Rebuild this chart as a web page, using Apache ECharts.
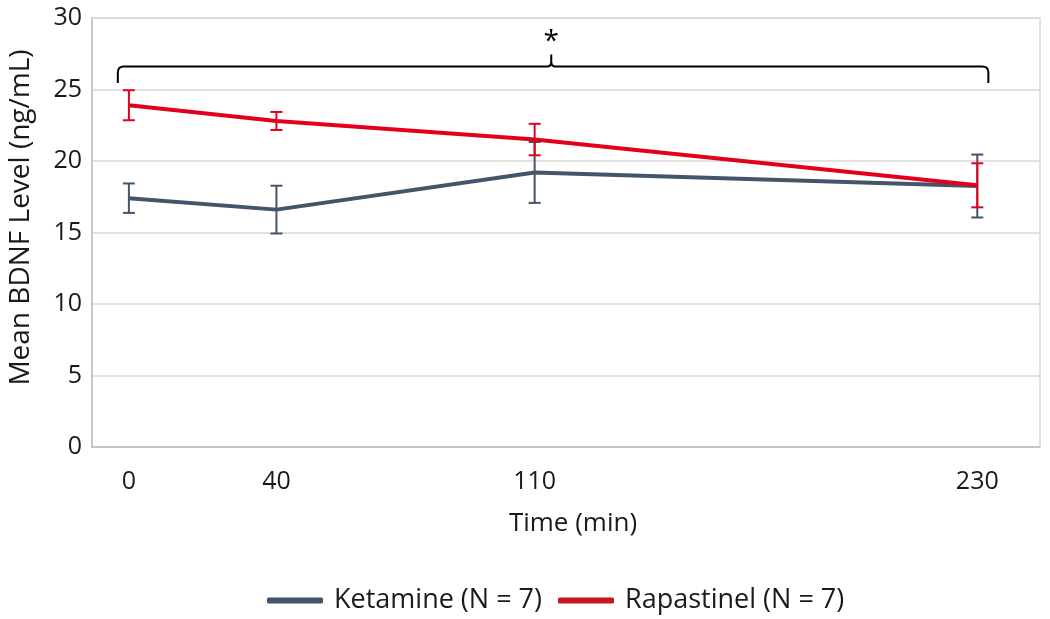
<!DOCTYPE html>
<html><head><meta charset="utf-8">
<script src="https://cdn.jsdelivr.net/npm/echarts@6/dist/echarts.min.js"></script>
<style>html,body{margin:0;padding:0;background:#fff}#c{width:1050px;height:619px}</style>
</head><body><div id="c"></div>
<script>
const times = [0, 40, 110, 230];
const xTickLabels = [0, 40, 110, 230];
const ketamineMean = [17.4, 16.6, 19.2, 18.25];
const ketamineErr = [1.03, 1.67, 2.13, 2.2];
const rapastinelMean = [23.9, 22.8, 21.5, 18.3];
const rapastinelErr = [1.05, 0.63, 1.1, 1.54];
const bracket = {x0: -3, x1: 233, y: 26.6, drop: 1.15, tipX: 114.5, tip: 0.85, starY: 28.3};

const KCOL = '#44546A', RCOL = '#E3001B', RLEG = '#C8161D';
const FONT = 'Open Sans';

function pts(xs, ys){ return xs.map((x,i)=>[x, ys[i]]); }
function errData(xs, m, e){ return xs.map((x,i)=>[x, m[i]-e[i], m[i]+e[i]]); }
function errSeries(name, data, color){
  return {
    type:'custom', name: name+'_err', data, silent:true, z:3,
    renderItem(params, api){
      const x = api.value(0);
      const lo = api.coord([x, api.value(1)]);
      const hi = api.coord([x, api.value(2)]);
      const w = 6;
      const st = {stroke: color, lineWidth: 2};
      return {type:'group', children:[
        {type:'line', shape:{x1:lo[0],y1:lo[1],x2:hi[0],y2:hi[1]}, style:st},
        {type:'line', shape:{x1:lo[0]-w,y1:lo[1],x2:lo[0]+w,y2:lo[1]}, style:st},
        {type:'line', shape:{x1:hi[0]-w,y1:hi[1],x2:hi[0]+w,y2:hi[1]}, style:st}
      ]};
    }
  };
}

const chart = echarts.init(document.getElementById('c'), null, {renderer:'canvas'});
chart.setOption({
  animation:false,
  textStyle:{fontFamily:FONT},
  grid:{left:92, right:10, top:18, bottom:172, show:true, borderColor:'#d9d9d9', borderWidth:1.5,
        containLabel:false, outerBoundsMode:'none'},
  xAxis:{
    type:'value', min:-10, max:247,
    name:'Time (min)', nameLocation:'middle', nameGap:64,
    nameTextStyle:{fontSize:26, color:'#1a1a1a', fontFamily:FONT, padding:[0,0,0,14]},
    axisLine:{show:true, onZero:false, lineStyle:{color:'#bfbfbf', width:1.5}},
    axisTick:{show:false},
    splitLine:{show:false},
    axisLabel:{customValues:xTickLabels, fontSize:25, color:'#1a1a1a', margin:22, fontFamily:FONT}
  },
  yAxis:{
    type:'value', min:0, max:30, interval:5,
    name:'Mean BDNF Level (ng/mL)', nameLocation:'middle', nameGap:57,
    nameTextStyle:{fontSize:28, color:'#1a1a1a', fontFamily:FONT, padding:[0,0,0,30]},
    axisLine:{show:true, onZero:false, lineStyle:{color:'#bfbfbf', width:1.5}},
    axisTick:{show:false},
    splitLine:{lineStyle:{color:'#d9d9d9', width:1.5}},
    axisLabel:{fontSize:25, color:'#1a1a1a', margin:10, fontFamily:FONT}
  },
  legend:{
    bottom:0, left:262, itemWidth:56, itemHeight:6, itemGap:16,
    textStyle:{fontSize:27, color:'#1a1a1a', fontFamily:FONT, padding:[0,0,0,6]},
    data:[
      {name:'Ketamine (N = 7)', icon:'roundRect', itemStyle:{color:KCOL}},
      {name:'Rapastinel (N = 7)', icon:'roundRect', itemStyle:{color:RLEG}}
    ]
  },
  series:[
    errSeries('Ketamine (N = 7)', errData(times, ketamineMean, ketamineErr), KCOL),
    {type:'line', name:'Ketamine (N = 7)', data:pts(times, ketamineMean), showSymbol:false, symbol:'none',
     lineStyle:{color:KCOL, width:4}, itemStyle:{color:KCOL}, z:4},
    errSeries('Rapastinel (N = 7)', errData(times, rapastinelMean, rapastinelErr), RCOL),
    {type:'line', name:'Rapastinel (N = 7)', data:pts(times, rapastinelMean), showSymbol:false, symbol:'none',
     lineStyle:{color:RCOL, width:4}, itemStyle:{color:RCOL}, z:5},
    {type:'custom', name:'bracket', silent:true, z:6,
     data:[[bracket.x0, bracket.x1, bracket.y, bracket.drop, bracket.tipX, bracket.tip, bracket.starY]],
     renderItem(params, api){
       const x0=api.value(0), x1=api.value(1), y=api.value(2), d=api.value(3), tx=api.value(4), t=api.value(5), sy=api.value(6);
       const L=api.coord([x0,y]), R=api.coord([x1,y]), Lb=api.coord([x0,y-d]), Rb=api.coord([x1,y-d]);
       const T=api.coord([tx,y]), Tt=api.coord([tx,y+t]), S=api.coord([tx,sy]);
       const r=6;
       const p = `M${Lb[0]} ${Lb[1]} L${L[0]} ${L[1]+r} Q${L[0]} ${L[1]} ${L[0]+r} ${L[1]} `+
                 `L${T[0]-4} ${T[1]} Q${T[0]} ${T[1]} ${T[0]} ${T[1]-5} L${Tt[0]} ${Tt[1]} `+
                 `M${T[0]} ${T[1]-5} Q${T[0]} ${T[1]} ${T[0]+4} ${T[1]} `+
                 `L${R[0]-r} ${R[1]} Q${R[0]} ${R[1]} ${R[0]} ${R[1]+r} L${Rb[0]} ${Rb[1]}`;
       return {type:'group', children:[
         {type:'path', shape:{pathData:p}, style:{stroke:'#000', lineWidth:2, fill:null}},
         {type:'text', x:S[0], y:S[1], style:{text:'*', fontSize:28, fill:'#000', align:'center', verticalAlign:'middle', fontFamily:FONT}}
       ]};
     }}
  ]
});
</script></body></html>
